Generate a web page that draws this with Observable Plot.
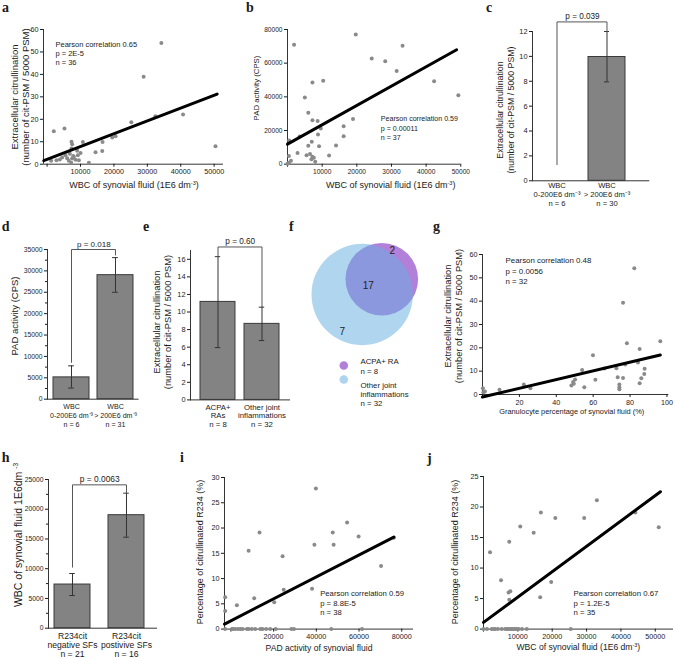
<!DOCTYPE html>
<html>
<head>
<meta charset="utf-8">
<script src="https://cdn.jsdelivr.net/npm/d3@7"></script>
<script src="https://cdn.jsdelivr.net/npm/@observablehq/plot@0.6"></script>
<style>
html,body{margin:0;padding:0;background:#fff;}
#fig{position:relative;width:675px;height:659px;overflow:hidden;background:#fff;font-family:"Liberation Sans",Arial,Helvetica,sans-serif;color:#1a1a1a;}
#fig svg{position:absolute;overflow:visible;max-width:none;}
.t{position:absolute;white-space:nowrap;line-height:1.2;text-align:center;}
.L{position:absolute;font-family:"Liberation Serif","DejaVu Serif",serif;font-weight:bold;font-size:14px;line-height:1;}
.s{font-size:0.62em;position:relative;top:-0.55em;}
</style>
</head>
<body>
<div id="fig"></div>
<script>
const FONT = '"Liberation Sans", Arial, Helvetica, sans-serif';
const fig = document.getElementById("fig");
const fmt = d3.format("d");

// ================= DATA =================
// a: WBC vs extracellular citrullination
const aPoints = [[2000,14.7],[5200,15.9],[7300,10],[7500,8.9],[10700,9.9],[7300,7],[6500,5.5],[5500,4],[7800,3.7],[7500,2.5],[8000,3.3],[9200,4],[10000,5],[9500,1.8],[6500,1.5],[7200,0.6],[3800,2.1],[2800,1.8],[1200,1.5],[12500,0.6],[14500,5.3],[16500,5.9],[16600,9.9],[19500,11.9],[20500,12.5],[25200,18.7],[28900,38.9],[32400,21.4],[34200,54],[40700,22.1],[50400,8],[4500,3],[6000,2.6],[8500,2],[9000,6],[6800,4.6]];
const aFit = [[-1000,1.6],[50900,31.2]];
const aNote = ["Pearson correlation 0.65","p = 2E-5","n = 36"];
const aXTicks = [0,10000,20000,30000,40000,50000];
const aYTicks = [0,10,20,30,40,50,60];

// b: WBC vs PAD activity
const bPoints = [[1900,71000],[19700,77000],[7200,48500],[10300,49500],[5000,39600],[6000,30500],[7200,26100],[8700,25700],[9600,21200],[8800,17600],[7000,13300],[6000,10900],[9100,10700],[2900,6700],[5500,5300],[7200,4400],[6900,3000],[400,4800],[400,800],[500,14000],[12000,5100],[14000,11100],[16200,16600],[16200,22600],[18900,26900],[24300,62800],[28200,61200],[31500,55400],[33200,70300],[42300,49300],[49300,40900],[3500,16500],[7600,3800],[8000,1500],[0,300],[1000,2000],[6500,6000]];
const bFit = [[0,11900],[48800,68000]];
const bNote = ["Pearson correlation 0.59","p = 0.00011","n = 37"];
const bXTicks = [0,10000,20000,30000,40000,50000];
const bYTicks = [0,20000,40000,60000,80000];

// c: citrullination by WBC group
const cCats = ["WBC 0-200E6","WBC >200E6"];
const cMeans = [0, 9.95];
const cErr = [null, [7.95, 12]];
const cLabels = ["WBC\n0-200E6 dm⁻³\nn = 6","WBC\n> 200E6 dm⁻³\nn = 30"];
const cBracket = [1.3, 12.77, 12];
const cP = "p = 0.039";
const cYTicks = [0,2,4,6,8,10,12];

// d: PAD activity by WBC group
const dCats = ["WBC 0-200E6","WBC >200E6"];
const dMeans = [5100, 29000];
const dErr = [[2600,7800],[25000,33100]];
const dLabels = ["WBC\n0-200E6 dm⁻³\nn = 6","WBC\n> 200E6 dm⁻³\nn = 31"];
const dBracket = [8600, 35000, 33700];
const dP = "p = 0.018";
const dYTicks = [0,5000,10000,15000,20000,25000,30000,35000];
const dYMinor = [2500,7500,12500,17500,22500,27500,32500];

// e: citrullination by diagnosis
const eCats = ["ACPA+ RAs","Other joint inflammations"];
const eMeans = [11.15, 8.65];
const eErr = [[5.95,16.3],[6.75,10.55]];
const eLabels = ["ACPA+\nRAs\nn = 8","Other joint\ninflammations\nn = 32"];
const eBracket = [16.3, 17.4, 10.55];
const eP = "p = 0.60";
const eYTicks = [0,2,4,6,8,10,12,14,16];

// f: Venn diagram
const vennSets = ["ACPA+ RA","Other joint inflammations"];
const vennColors = ["#b27fd9","#67aee0"];
const vennCircles = [{set:vennSets[0], cx:86.3, cy:53.7, r:36.3},{set:vennSets[1], cx:66.7, cy:69, r:50.7}];
const vennCounts = [{n:"2", x:96.7, y:25},{n:"17", x:72.7, y:60.7},{n:"7", x:46.7, y:106.7}];
const vennLegend = [
  {x:48.3, y:140, fill:"#b27fd9", text:"ACPA+ RA\nn = 8", ty:132.2},
  {x:48.3, y:154, fill:"#aed4ef", text:"Other joint\ninflammations\nn = 32", ty:155.5}
];

// g: granulocyte % vs citrullination
const gPoints = [[0.2,2.7],[1.3,1.3],[9.2,2.0],[22.4,4.3],[26,2.7],[48.2,3.8],[49.1,5.3],[50.2,6.4],[54,10.5],[55.2,3.1],[59.9,16.8],[61.2,6.3],[66.1,11.1],[72.6,11.2],[73.3,7.4],[74.2,4.3],[74.2,3.1],[76.2,7.1],[76.2,39.3],[77.4,12.8],[78.3,22],[82.3,54.1],[84.3,13.7],[85.2,19.5],[85.2,4.8],[86.1,7],[87.9,11],[87.7,8.8],[96.4,22.8],[74.2,2.2],[49.5,4.6],[0.5,1.0]];
const gFit = [[0,-1.1],[96.4,16.9]];
const gNote = ["Pearson correlation 0.48","p = 0.0056","n = 32"];
const gXTicks = [0,20,40,60,80,100];
const gYTicks = [0,10,20,30,40,50,60];

// h: WBC by R234cit status
const hCats = ["R234cit negative SFs","R234cit postivive SFs"];
const hMeans = [7340, 19000];
const hErr = [[5490,9190],[15300,22700]];
const hLabels = ["R234cit\nnegative SFs\nn = 21","R234cit\npostivive SFs\nn = 16"];
const hBracket = [10260, 24100, 22700];
const hP = "p = 0.0063";
const hYTicks = [0,5000,10000,15000,20000,25000];
const hYMinor = [2500,7500,12500,17500,22500];

// i: PAD activity vs citrullinated R234
const iPoints = [[-2700,6.3],[-2700,3.6],[2800,4.7],[8300,15.5],[10900,6.1],[13400,19.1],[20300,5.3],[24200,14.4],[24700,7.8],[38000,8.0],[39800,27.8],[39100,16.7],[47700,19.1],[48100,16.7],[54400,21.1],[59800,18.3],[70300,12.5],[76300,18.1],
  [-2700,0],[500,0],[2000,0],[3300,0],[4400,0],[7500,0],[8300,0],[9800,0],[11400,0],[13800,0],[14800,0],[18400,0],[28300,0],[47000,0],[61400,0],[5500,0],[16500,0],[21000,0],[29500,0],[1000,0]];
const iFit = [[-3000,1.0],[76300,18.2]];
const iNote = ["Pearson correlation 0.59","p = 8.8E-5","n = 38"];
const iXTicks = [0,20000,40000,60000,80000];
const iYTicks = [0,5,10,15,20,25,30];

// j: WBC vs citrullinated R234
const jPoints = [[1900,12.6],[5100,8.0],[7500,14.3],[7300,6.0],[7800,6.2],[7500,4.8],[10700,16.8],[14600,15.8],[16700,19.1],[16500,5.2],[19700,7.7],[20900,18.2],[29300,18.2],[33000,21.1],[44200,19.1],[51000,16.7],
  [0,0],[2400,0],[3400,0],[5300,0],[6300,0],[6800,0],[7800,0],[8700,0],[9700,0],[12600,0],[25400,0],[1000,0],[4200,0],[7200,0],[8200,0],[9200,0],[10200,0],[11200,0],[3000,0]];
const jFit = [[0,1.1],[51500,22.5]];
const jNote = ["Pearson correlation 0.67","p = 1.2E-5","n = 35"];
const jXTicks = [0,10000,20000,30000,40000,50000];
const jYTicks = [0,5,10,15,20,25];

// text: axis titles and panel letters
const WBCX = "WBC of synovial fluid (1E6 dm<span class='s'>-3</span>)";
const CITY = "Extracellular citrullination<br>(number of cit-PSM / 5000 PSM)";
const titles = [
  {html:CITY, x:19.5, y:97, fs:9.5, rot:true},
  {html:WBCX, x:134, y:185, fs:9},
  {html:"PAD activity (CPS)", x:256.7, y:87.5, fs:7.8, rot:true},
  {html:WBCX, x:390.7, y:185, fs:9},
  {html:CITY, x:506, y:110, fs:8.8, rot:true},
  {html:"PAD activity (CPS)", x:15, y:316, fs:9.5, rot:true},
  {html:CITY, x:162.5, y:322, fs:9.3, rot:true},
  {html:CITY, x:454, y:316, fs:9.3, rot:true},
  {html:"Granulocyte percentage of synovial fluid (%)", x:571.7, y:411.7, fs:7.4},
  {html:"WBC of synovial fluid 1E6dm <span class='s'>-3</span>", x:18.3, y:535, fs:10.5, rot:true},
  {html:"Percentage of citrullinated R234 (%)", x:200, y:552, fs:9, rot:true},
  {html:"PAD activity of synovial fluid", x:319, y:648.3, fs:8.6},
  {html:"Percentage of citrullinated R234 (%)", x:455, y:552, fs:9, rot:true},
  {html:WBCX, x:578.3, y:646.7, fs:8.6}
];
const letters = [["a",2,12.6],["b",246,12.4],["c",486,12.6],["d",1.7,231.7],["e",143,231.7],["f",289,231.7],["g",433,231.7],["h",1.7,463],["i",180,463],["j",427,463.7]];

// ================= DRAWING =================
function baseStyle(fs) {
  return {background:"transparent", fontFamily:FONT, fontSize:fs+"px", color:"#1a1a1a", overflow:"visible"};
}
function place(svg, left, top) {
  svg.style.left = left + "px";
  svg.style.top = top + "px";
  fig.append(svg);
}

function scatter(p) {
  const mL = 40, mR = 12, mT = 12, mB = 22;
  const w = p.fx[1] - p.fx[0], h = p.fy[0] - p.fy[1];
  const svg = Plot.plot({
    width: w + mL + mR, height: h + mT + mB,
    marginLeft: mL, marginRight: mR, marginTop: mT, marginBottom: mB,
    style: baseStyle(p.tfs),
    x: {domain: p.xd}, y: {domain: p.yd},
    marks: [
      Plot.ruleY([p.yd[0]], {stroke: "#333"}),
      Plot.ruleX([p.xd[0]], {stroke: "#333"}),
      Plot.axisX({ticks: p.xt, tickSize: 3, tickPadding: 2, tickFormat: d => d === 0 ? "" : fmt(d), label: null}),
      Plot.axisY({ticks: p.yt, tickSize: 3, tickPadding: 2, tickFormat: fmt, label: null}),
      Plot.dot(p.pts, {x: d => d[0], y: d => d[1], r: 2, fill: "#8a8a8a", stroke: "none"}),
      Plot.line(p.fit, {x: d => d[0], y: d => d[1], stroke: "#000", strokeWidth: 3}),
      Plot.text([p.note.join("\n")], {text: d => d, frameAnchor: "top-left", dx: p.ndx, dy: p.ndy,
        textAnchor: "start", lineAnchor: "top", lineHeight: p.nlh, fontSize: p.nfs, fill: "#1a1a1a"})
    ]
  });
  place(svg, p.fx[0] - mL, p.fy[1] - mT);
}

function bars(p) {
  const mL = 40, mR = 10, mT = 30, mB = 40;
  const w = p.fx[1] - p.fx[0], h = p.fy[0] - p.fy[1];
  const n = p.cats.length;
  const step = w / (n - p.pi + 2 * p.po), bw = step * (1 - p.pi), inset = bw / 2 - 3;
  const rows = p.cats.map((c, i) => ({c, v: p.means[i], e: p.err[i], lab: p.labels[i]}));
  const er = rows.filter(r => r.e).map(r => ({c: r.c, lo: r.e[0], hi: r.e[1]}));
  const br = [{c: p.cats[0], v: p.bracket[0]}, {c: p.cats[0], v: p.bracket[1]},
              {c: p.cats[1], v: p.bracket[1]}, {c: p.cats[1], v: p.bracket[2]}];
  const marks = [
    Plot.barY(rows, {x: "c", y: "v", fill: "#838383", stroke: "#3a3a3a", strokeWidth: 1}),
    Plot.ruleX(er, {x: "c", y1: "lo", y2: "hi", stroke: "#333"}),
    Plot.tickY(er, {x: "c", y: "lo", insetLeft: inset, insetRight: inset, stroke: "#333"}),
    Plot.tickY(er, {x: "c", y: "hi", insetLeft: inset, insetRight: inset, stroke: "#333"}),
    Plot.line(br, {x: "c", y: "v", stroke: "#555", strokeWidth: 1}),
    Plot.text([{c: p.cats[0], v: p.bracket[1], t: p.p}], {x: "c", y: "v", text: "t", dx: step / 2, dy: -5.5, fontSize: p.pfs, fill: "#1a1a1a"}),
    Plot.ruleY([0], {stroke: "#333"}),
    Plot.frame({anchor: "left", stroke: "#333"}),
    Plot.axisY({ticks: p.yt, tickSize: 3, tickPadding: 2, tickFormat: fmt, label: null}),
    p.ym ? Plot.axisY({ticks: p.ym, tickSize: 2, tickFormat: () => "", label: null}) : null,
    Plot.text(rows, {x: "c", text: "lab", frameAnchor: "bottom", dy: p.ldy, lineAnchor: "top", lineHeight: p.lh, fontSize: p.lfs, fill: "#1a1a1a"})
  ].filter(Boolean);
  const svg = Plot.plot({
    width: w + mL + mR, height: h + mT + mB,
    marginLeft: mL, marginRight: mR, marginTop: mT, marginBottom: mB,
    style: baseStyle(p.tfs),
    x: {type: "band", domain: p.cats, paddingInner: p.pi, paddingOuter: p.po, align: p.al, axis: null},
    y: {domain: p.yd},
    marks
  });
  place(svg, p.fx[0] - mL, p.fy[1] - mT);
}

// scatter panels
scatter({pts: aPoints, fit: aFit, note: aNote, xt: aXTicks, yt: aYTicks, fx: [43, 223], fy: [164, 29.3], xd: [-1080, 52800], yd: [0, 60], tfs: 7.2, ndx: 12, ndy: 10.7, nlh: 1.2, nfs: 7.5});
scatter({pts: bPoints, fit: bFit, note: bNote, xt: bXTicks, yt: bYTicks, fx: [286.7, 460], fy: [164, 29.3], xd: [0, 50000], yd: [0, 80000], tfs: 6.6, ndx: 93.3, ndy: 84.7, nlh: 1.35, nfs: 7.1});
scatter({pts: gPoints, fit: gFit, note: gNote, xt: gXTicks, yt: gYTicks, fx: [482, 668.3], fy: [394, 254], xd: [0, 101], yd: [0, 60], tfs: 7.2, ndx: 23, ndy: 1.6, nlh: 1.3, nfs: 7.9});
scatter({pts: iPoints, fit: iFit, note: iNote, xt: iXTicks, yt: iYTicks, fx: [224.3, 413.3], fy: [628.3, 476.7], xd: [-3000, 85500], yd: [0, 30], tfs: 7.2, ndx: 95.7, ndy: 112.3, nlh: 1.2, nfs: 7.7});
scatter({pts: jPoints, fit: jFit, note: jNote, xt: jXTicks, yt: jYTicks, fx: [483.3, 673.3], fy: [628.3, 475.7], xd: [0, 55300], yd: [0, 25], tfs: 7.2, ndx: 90, ndy: 113.3, nlh: 1.2, nfs: 7.8});

// bar panels
bars({cats: cCats, means: cMeans, err: cErr, labels: cLabels, bracket: cBracket, p: cP, yt: cYTicks, fx: [531.7, 649], fy: [180, 30.7], yd: [0, 12], pi: 0.255, po: 0.278, al: 0.19, tfs: 7.4, pfs: 8.2, ldy: 1.3, lh: 1.18, lfs: 7.6});
bars({cats: dCats, means: dMeans, err: dErr, labels: dLabels, bracket: dBracket, p: dP, yt: dYTicks, ym: dYMinor, fx: [46.7, 138.3], fy: [399, 249.3], yd: [0, 35000], pi: 0.19, po: 0.12, al: 0.52, tfs: 6.8, pfs: 8, ldy: 3.5, lh: 1.25, lfs: 7.1});
bars({cats: eCats, means: eMeans, err: eErr, labels: eLabels, bracket: eBracket, p: eP, yt: eYTicks, fx: [190, 290], fy: [399, 249.6], yd: [0, 17], pi: 0.2, po: 0.2235, al: 0.5, tfs: 7.4, pfs: 8.2, ldy: 3.5, lh: 1.12, lfs: 7.8});
bars({cats: hCats, means: hMeans, err: hErr, labels: hLabels, bracket: hBracket, p: hP, yt: hYTicks, ym: hYMinor, fx: [47.7, 156.7], fy: [627.7, 479], yd: [0, 25000], pi: 0.332, po: 0.168, al: 0.31, tfs: 6.8, pfs: 8.4, ldy: 5, lh: 1.03, lfs: 8.6});

// Venn panel f
{
  const svg = Plot.plot({
    width: 145, height: 190, margin: 0,
    style: baseStyle(7.8),
    x: {domain: [0, 145], range: [0, 145], axis: null},
    y: {domain: [0, 190], range: [0, 190], axis: null},
    r: {type: "identity"},
    marks: [
      Plot.dot(vennCircles.filter(d => d.set === vennSets[0]), {x: "cx", y: "cy", r: "r", fill: vennColors[0], stroke: "none"}),
      Plot.dot(vennCircles.filter(d => d.set === vennSets[1]), {x: "cx", y: "cy", r: "r", fill: vennColors[1], fillOpacity: 0.52, stroke: "none"}),
      Plot.text(vennCounts, {x: "x", y: "y", text: "n", fontSize: 10, fill: "#222"}),
      Plot.dot(vennLegend, {x: "x", y: "y", r: 4.3, fill: "fill", stroke: "none"}),
      Plot.text(vennLegend, {x: "x", y: "ty", text: "text", dx: 16.7, textAnchor: "start", lineAnchor: "top", lineHeight: 1.2, fontSize: 7.8, fill: "#1a1a1a"})
    ],
    color: {type: "identity"}
  });
  place(svg, 295, 225);
}

// HTML text: axis titles and panel letters
for (const t of titles) {
  const d = document.createElement("div");
  d.className = "t";
  d.innerHTML = t.html;
  d.style.left = t.x + "px";
  d.style.top = t.y + "px";
  d.style.fontSize = t.fs + "px";
  d.style.transform = "translate(-50%,-50%)" + (t.rot ? " rotate(-90deg)" : "");
  fig.append(d);
}
for (const [ch, x, base] of letters) {
  const d = document.createElement("div");
  d.className = "L";
  d.textContent = ch;
  d.style.left = x + "px";
  d.style.top = (base - 11.7) + "px";
  fig.append(d);
}
</script>
</body>
</html>
